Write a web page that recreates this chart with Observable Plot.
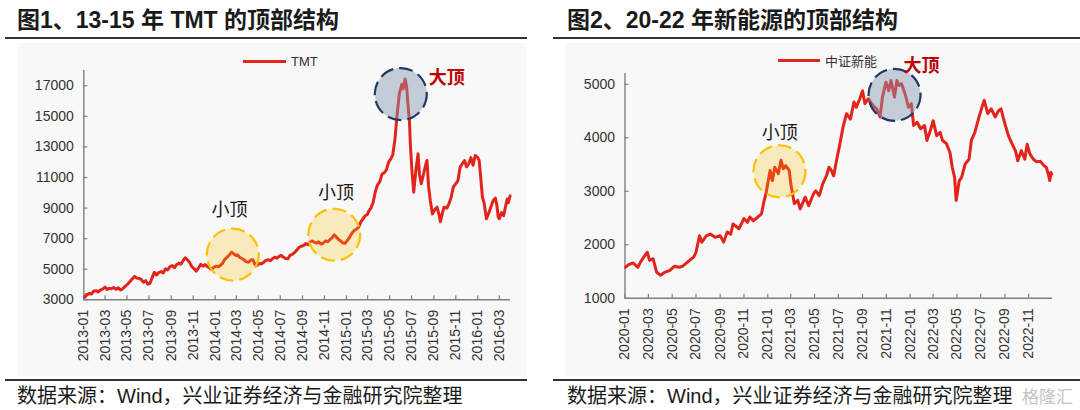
<!DOCTYPE html>
<html><head><meta charset="utf-8">
<script src="https://cdn.jsdelivr.net/npm/d3@7"></script>
<script src="https://cdn.jsdelivr.net/npm/@observablehq/plot@0.6"></script>
<style>
body{margin:0;background:#fff;width:1080px;height:410px;overflow:hidden;position:relative;font-family:"Liberation Sans",Arial,"Noto Sans CJK SC",sans-serif;}
.abs{position:absolute;}
.title{font-size:23px;font-weight:bold;color:#1a1a1a;white-space:nowrap;line-height:23px;}
.rule{height:1.5px;background:#333;}
.bg{background:#f8f8f8;}
.cap{font-size:20px;color:#1a1a1a;white-space:nowrap;line-height:20px;}
.leg{font-size:13px;color:#333;white-space:nowrap;line-height:13px;}
.legline{height:3px;background:#e3241c;}
.plotbox svg{max-width:none;}
</style></head><body>
<div class="abs bg" style="left:17px;top:43px;width:510px;height:333px"></div>
<div class="abs bg" style="left:565px;top:43px;width:515px;height:333px"></div>
<div class="abs title" style="left:17px;top:9px">图1、13-15 年 TMT 的顶部结构</div>
<div class="abs title" style="left:567px;top:9px">图2、20-22 年新能源的顶部结构</div>
<div class="abs rule" style="left:5px;top:37px;width:522px"></div>
<div class="abs rule" style="left:553px;top:37px;width:527px"></div>
<div class="abs rule" style="left:5px;top:379px;width:522px"></div>
<div class="abs rule" style="left:553px;top:379px;width:527px"></div>
<div class="abs cap" style="left:17px;top:386px">数据来源：Wind，兴业证券经济与金融研究院整理</div>
<div class="abs cap" style="left:567px;top:386px">数据来源：Wind，兴业证券经济与金融研究院整理</div>
<div class="abs" style="left:1022px;top:387px;font-size:17px;color:#c4c4c4;font-family:'Noto Sans CJK SC';line-height:18px">格隆汇</div>
<div id="left" class="abs plotbox" style="left:0;top:40px;width:527px;height:340px"></div>
<div id="right" class="abs plotbox" style="left:540px;top:40px;width:540px;height:340px"></div>
<div class="abs legline" style="left:243px;top:60px;width:43px"></div>
<div class="abs leg" style="left:291px;top:55px">TMT</div>
<div class="abs legline" style="left:778px;top:59px;width:42px"></div>
<div class="abs leg" style="left:825px;top:54px;font-family:'Noto Sans CJK SC'">中证新能</div>
<script>
// ---------- Figure 1: TMT 2013-2016 ----------
const tmtDates = [
"2013-01-04","2013-01-08","2013-01-10","2013-01-16","2013-01-22","2013-01-28","2013-02-04","2013-02-10","2013-02-16","2013-02-22",
"2013-03-01","2013-03-07","2013-03-13","2013-03-19","2013-03-25","2013-04-01","2013-04-07","2013-04-13","2013-04-19","2013-04-25",
"2013-05-04","2013-05-13","2013-05-22","2013-05-28","2013-06-04","2013-06-10","2013-06-16","2013-06-22","2013-06-28","2013-07-04",
"2013-07-10","2013-07-16","2013-07-22","2013-07-28","2013-08-04","2013-08-10","2013-08-16","2013-08-22","2013-08-28","2013-09-04",
"2013-09-10","2013-09-16","2013-09-22","2013-09-28","2013-10-04","2013-10-10","2013-10-16","2013-10-22","2013-10-28","2013-11-04",
"2013-11-10","2013-11-16","2013-11-22","2013-11-28","2013-12-04","2013-12-10","2013-12-16","2013-12-22","2013-12-28","2014-01-04",
"2014-01-10","2014-01-16","2014-01-22","2014-01-28","2014-02-04","2014-02-10","2014-02-16","2014-02-22","2014-02-28","2014-03-04",
"2014-03-10","2014-03-16","2014-03-22","2014-03-28","2014-04-04","2014-04-10","2014-04-16","2014-04-22","2014-04-28","2014-05-04",
"2014-05-10","2014-05-16","2014-05-22","2014-05-28","2014-06-04","2014-06-10","2014-06-16","2014-06-22","2014-06-28","2014-07-04",
"2014-07-10","2014-07-16","2014-07-22","2014-07-28","2014-08-04","2014-08-10","2014-08-16","2014-08-22","2014-08-28","2014-09-04",
"2014-09-10","2014-09-16","2014-09-22","2014-09-28","2014-10-04","2014-10-10","2014-10-16","2014-10-22","2014-10-28","2014-11-04",
"2014-11-10","2014-11-16","2014-11-22","2014-11-28","2014-12-04","2014-12-10","2014-12-16","2014-12-22","2014-12-28","2015-01-04",
"2015-01-10","2015-01-16","2015-01-22","2015-01-28","2015-02-04","2015-02-10","2015-02-16","2015-02-22","2015-02-28","2015-03-04",
"2015-03-10","2015-03-16","2015-03-22","2015-03-28","2015-04-04","2015-04-10","2015-04-16","2015-04-22","2015-04-28","2015-05-04",
"2015-05-10","2015-05-16","2015-05-22","2015-05-28","2015-06-04","2015-06-08","2015-06-13","2015-06-17","2015-06-22","2015-06-25",
"2015-06-28","2015-07-02","2015-07-07","2015-07-13","2015-07-19","2015-07-23","2015-07-28","2015-08-04","2015-08-10","2015-08-13",
"2015-08-17","2015-08-22","2015-08-28","2015-09-04","2015-09-10","2015-09-16","2015-09-19","2015-09-25","2015-09-29","2015-10-07",
"2015-10-13","2015-10-19","2015-10-25","2015-11-01","2015-11-07","2015-11-13","2015-11-19","2015-11-25","2015-12-01","2015-12-07",
"2015-12-13","2015-12-19","2015-12-25","2016-01-01","2016-01-05","2016-01-10","2016-01-14","2016-01-19","2016-01-25","2016-02-01",
"2016-02-07","2016-02-13","2016-02-19","2016-02-23","2016-02-27","2016-03-01","2016-03-07","2016-03-13","2016-03-19","2016-03-23",
"2016-03-26","2016-03-31"];
const tmtValues = [
3170,3350,3300,3420,3380,3560,3600,3520,3640,3700,
3830,3680,3760,3720,3800,3690,3780,3650,3720,3860,
4050,4300,4530,4420,4400,4320,4150,4250,4020,4080,
4450,4800,4620,4780,4850,4760,5030,4950,5150,5240,
5100,5300,5400,5330,5560,5750,5620,5450,5180,5020,
4880,5100,5320,5200,5300,5180,5100,4980,5120,5200,
5160,5260,5400,5650,5800,5950,6120,6000,5900,5950,
5780,5700,5620,5500,5460,5600,5620,5300,5260,5380,
5350,5450,5580,5620,5560,5700,5790,5720,5850,5900,
5780,5700,5680,5900,5980,6100,6250,6420,6500,6550,
6680,6600,6780,6850,6760,6720,6800,6650,6700,6850,
6800,6950,7050,7250,7100,6950,6850,6720,6700,6900,
7100,7350,7530,7600,7750,8100,8300,8500,8580,8800,
9000,9350,10040,10500,10750,11240,11300,11500,12000,12200,
12500,13530,15160,16470,17100,16800,17450,17000,15500,14730,
12990,11460,10040,11460,12550,11200,10590,11300,11900,12110,
10500,9500,8620,8900,9060,8500,8100,8700,9060,9000,
9280,9700,10370,10600,10800,11680,11900,12110,11700,11900,
12300,11800,12440,12300,12100,10800,9700,9300,8300,8700,
9100,9500,9650,9200,8400,8300,8700,8500,9200,9600,
9350,9800];
const tmtXTicks = ["2013-01","2013-03","2013-05","2013-07","2013-09","2013-11","2014-01","2014-03","2014-05","2014-07",
"2014-09","2014-11","2015-01","2015-03","2015-05","2015-07","2015-09","2015-11","2016-01","2016-03"];
const tmtYTicks = [3000,5000,7000,9000,11000,13000,15000,17000];
const tmtXDomain = ["2013-01-01","2016-04-01"];
const tmtYDomain = [3000,18000];
const tmtBigTop = [{date:"2015-06-01", value:16460}];
const tmtSmallTops = [{date:"2014-02-19", value:5960},{date:"2014-11-28", value:7255}];
const tmtBigLabel = [{date:"2015-10-07", value:17500, text:"大顶"}];
const tmtSmallLabels = [{date:"2014-02-10", value:8840, text:"小顶"},{date:"2014-12-03", value:9950, text:"小顶"}];

// ---------- Figure 2: 中证新能 2020-2022 ----------
const xnyDates = [
"2020-01-02","2020-01-10","2020-01-22","2020-02-03","2020-02-10","2020-02-21","2020-02-27","2020-03-04","2020-03-13","2020-03-22",
"2020-04-01","2020-04-13","2020-04-25","2020-05-07","2020-05-19","2020-05-28","2020-06-10","2020-06-25","2020-07-01","2020-07-10",
"2020-07-16","2020-07-28","2020-08-07","2020-08-19","2020-09-01","2020-09-10","2020-09-19","2020-09-28","2020-10-04","2020-10-19",
"2020-11-01","2020-11-10","2020-11-16","2020-11-25","2020-12-07","2020-12-16","2020-12-22","2020-12-28","2021-01-07","2021-01-13",
"2021-01-19","2021-01-28","2021-02-04","2021-02-10","2021-02-16","2021-02-25","2021-03-01","2021-03-10","2021-03-19","2021-03-25",
"2021-04-07","2021-04-16","2021-04-28","2021-05-04","2021-05-13","2021-05-22","2021-06-01","2021-06-07","2021-06-13","2021-06-19",
"2021-06-28","2021-07-04","2021-07-13","2021-07-22","2021-08-01","2021-08-10","2021-08-16","2021-08-25","2021-09-01","2021-09-07",
"2021-09-16","2021-09-28","2021-10-07","2021-10-16","2021-10-22","2021-10-31","2021-11-07","2021-11-13","2021-11-22","2021-11-28",
"2021-12-04","2021-12-10","2021-12-19","2021-12-28","2022-01-04","2022-01-10","2022-01-19","2022-01-28","2022-02-07","2022-02-13",
"2022-02-22","2022-03-01","2022-03-10","2022-03-19","2022-03-25","2022-04-04","2022-04-13","2022-04-19","2022-04-25","2022-04-29",
"2022-05-07","2022-05-13","2022-05-22","2022-06-01","2022-06-07","2022-06-16","2022-06-25","2022-07-04","2022-07-10","2022-07-19",
"2022-07-28","2022-08-07","2022-08-16","2022-08-22","2022-09-01","2022-09-10","2022-09-19","2022-09-28","2022-10-04","2022-10-13",
"2022-10-22","2022-10-28","2022-11-04","2022-11-13","2022-11-22","2022-12-01","2022-12-10","2022-12-16","2022-12-22","2022-12-25",
"2022-12-28","2022-12-30"];
const xnyValues = [
1580,1630,1660,1580,1680,1800,1860,1710,1740,1490,
1430,1490,1520,1600,1580,1600,1680,1770,1860,2170,
2050,2170,2200,2140,2170,2050,2240,2200,2390,2300,
2490,2420,2520,2450,2520,2580,2800,2980,3390,3200,
3450,3330,3580,3420,3480,3390,3140,2770,2830,2670,
2890,2730,2950,3010,2920,3140,3300,3450,3390,3290,
3640,3850,4200,4450,4350,4670,4570,4730,4880,4640,
4730,4600,4540,4390,4760,5040,4880,5070,4760,5070,
4980,5010,4820,4570,4640,4230,4290,4170,4230,3950,
4140,4320,4040,4100,3950,3890,3730,3450,3260,2830,
3200,3260,3510,3600,3950,4100,4350,4570,4700,4450,
4540,4390,4510,4540,4260,4040,3890,3760,3570,3760,
3600,3880,3700,3600,3550,3560,3480,3450,3300,3200,
3350,3320];
const xnyXTicks = ["2020-01","2020-03","2020-05","2020-07","2020-09","2020-11","2021-01","2021-03","2021-05","2021-07",
"2021-09","2021-11","2022-01","2022-03","2022-05","2022-07","2022-09","2022-11"];
const xnyYTicks = [1000,2000,3000,4000,5000];
const xnyXDomain = ["2020-01-01","2023-01-01"];
const xnyYDomain = [1000,5200];
const xnyBigTop = [{date:"2021-11-22", value:4803}];
const xnySmallTops = [{date:"2021-01-31", value:3375}];
const xnyBigLabel = [{date:"2022-01-30", value:5332, text:"大顶"}];
const xnySmallLabels = [{date:"2021-02-01", value:4090, text:"小顶"}];

const pd = d3.utcParse("%Y-%m-%d");
const pm = d3.utcParse("%Y-%m");
const conv = arr => arr.map(d => ({...d, date: pd(d.date)}));

function panel(o) {
  const data = o.dates.map((d, i) => ({date: pd(d), value: o.values[i]}));
  const xt = o.xTicks.map(pm);
  const axisColor = "#7f7f7f";
  return Plot.plot({
    width: o.width, height: o.height,
    marginLeft: o.ml, marginRight: o.mr, marginTop: o.mt, marginBottom: o.mb,
    style: {background: "transparent", overflow: "visible", fontFamily: "'Liberation Sans', Arial, 'Noto Sans CJK SC', sans-serif", color: "#333"},
    x: {type: "utc", domain: o.xDomain.map(pd)},
    y: {domain: o.yDomain},
    marks: [
      Plot.ruleY([o.yDomain[0]], {stroke: axisColor, strokeWidth: 1.4}),
      Plot.ruleX([pd(o.xDomain[0])], {stroke: axisColor, strokeWidth: 1.4}),
      Plot.axisX({ticks: xt, tickSize: 4, dy: -4, fill: "none", tickFormat: () => "", stroke: axisColor, strokeWidth: 1.2, label: null}),
      Plot.axisX({ticks: xt, tickSize: 0, tickPadding: 10, tickRotate: -90, tickFormat: d3.utcFormat("%Y-%m"), fontSize: 14, fill: "#333", label: null}),
      Plot.axisY({ticks: o.yTicks, tickSize: 4, dx: 4, fill: "none", tickFormat: () => "", stroke: axisColor, strokeWidth: 1.2, label: null}),
      Plot.axisY({ticks: o.yTicks, tickSize: 0, tickPadding: 10, tickFormat: d => String(d), fontSize: 14, fill: "#333", label: null}),
      Plot.lineY(data, {x: "date", y: "value", stroke: "#e3241c", strokeWidth: 3}),
      Plot.dot(conv(o.smallTops), {x: "date", y: "value", r: 26, fill: "#ffc000", fillOpacity: 0.23, stroke: "#ffc000", strokeWidth: 2.2, strokeDasharray: "14,6"}),
      Plot.dot(conv(o.bigTop), {x: "date", y: "value", r: 26, fill: "#8497b0", fillOpacity: 0.45, stroke: "#1f3864", strokeWidth: 2.2, strokeDasharray: "14,6"}),
      Plot.text(conv(o.smallLabels), {x: "date", y: "value", text: "text", fontSize: 18, fill: "#1a1a1a", fontFamily: "Noto Sans CJK SC"}),
      Plot.text(conv(o.bigLabel), {x: "date", y: "value", text: "text", fontSize: 18, fontWeight: "bold", fill: "#c00000", fontFamily: "Noto Sans CJK SC"})
    ]
  });
}

document.getElementById("left").appendChild(panel({
  dates: tmtDates, values: tmtValues, xTicks: tmtXTicks, yTicks: tmtYTicks,
  xDomain: tmtXDomain, yDomain: tmtYDomain, bigTop: tmtBigTop, smallTops: tmtSmallTops,
  bigLabel: tmtBigLabel, smallLabels: tmtSmallLabels,
  width: 527, height: 340, ml: 83.3, mr: 17, mt: 30, mb: 80.7
}));
document.getElementById("right").appendChild(panel({
  dates: xnyDates, values: xnyValues, xTicks: xnyXTicks, yTicks: xnyYTicks,
  xDomain: xnyXDomain, yDomain: xnyYDomain, bigTop: xnyBigTop, smallTops: xnySmallTops,
  bigLabel: xnyBigLabel, smallLabels: xnySmallLabels,
  width: 540, height: 340, ml: 84.5, mr: 28, mt: 33.1, mb: 82.2
}));
</script></body></html>
